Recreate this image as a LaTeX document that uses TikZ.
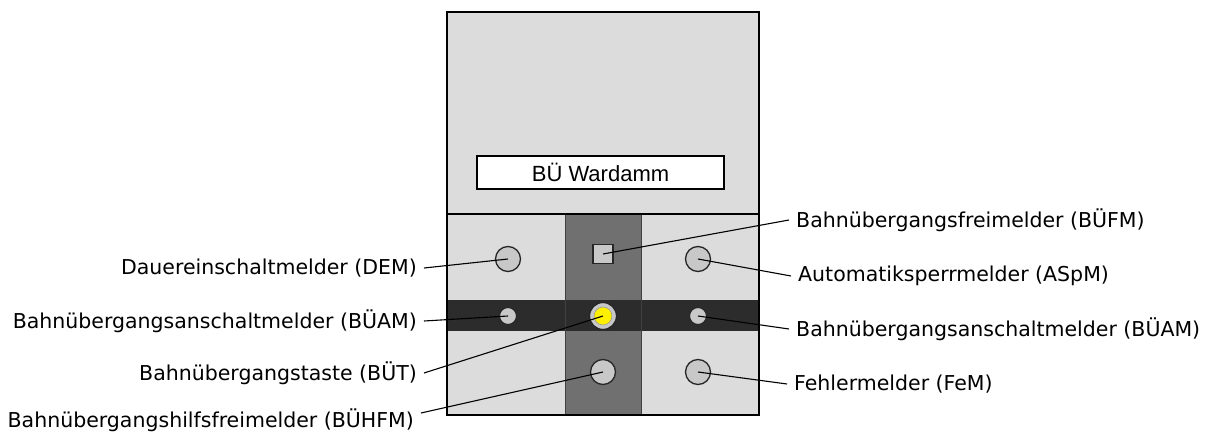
\documentclass[tikz,border=0pt]{standalone}
\usepackage{fontspec}
\setmainfont{DejaVu Sans}
\newfontfamily\namefont{Liberation Sans}
\usepackage{tikz}
\usetikzlibrary{positioning}
\definecolor{panel}{HTML}{DCDCDC}
\definecolor{lamp}{HTML}{C8C8C8}
\definecolor{track}{HTML}{707070}
\definecolor{road}{HTML}{2C2C2C}
\definecolor{bulb}{HTML}{FFF000}
\tikzset{
  frame/.style={draw=black, line width=2.6pt},
  divider/.style={draw=black, line width=2pt},
  edge/.style={draw=black!75, line width=0.8pt},
  lampbig/.style={circle, draw=black!85, line width=1.3pt, fill=lamp, minimum size=25pt, inner sep=0pt},
  lampsmall/.style={circle, draw=black!85, line width=1.1pt, fill=lamp, minimum size=17pt, inner sep=0pt},
  lampsq/.style={rectangle, draw=black!85, line width=1.3pt, fill=lamp, minimum width=20pt, minimum height=19pt, inner sep=0pt},
  button/.style={circle, draw=black!85, line width=1.3pt, fill=lamp, minimum size=27pt, inner sep=0pt},
  bulbin/.style={circle, draw=black!40, line width=0.6pt, fill=bulb, minimum size=18pt, inner sep=0pt},
  namebox/.style={draw=black, line width=1.3pt, fill=white, minimum width=247pt, minimum height=33pt, inner sep=0pt, font=\namefont\fontsize{22}{26}\selectfont},
  lbl/.style={font=\fontsize{20.5}{24}\selectfont, inner sep=0pt, inner xsep=7pt},
  lbll/.style={lbl, anchor=east},
  lblr/.style={lbl, anchor=west},
  lead/.style={draw=black, line width=1.1pt}
}

\begin{document}
\begin{tikzpicture}[x=1pt, y=-1pt]
  \useasboundingbox (0,0) rectangle (1205,433);

  % panel
  \fill[panel] (447,12) rectangle (759,415);
  \fill[track] (565,214) rectangle (641,415);
  \fill[road] (447,300) rectangle (759,331);
  \draw[edge] (565,214) -- (565,415);
  \draw[edge] (641,214) -- (641,415);
  \draw[frame] (447,12) rectangle (759,415);
  \draw[divider] (447,214) -- (759,214);
  \node[namebox] (name) at (600.5,172.5) {BÜ Wardamm};

  % indicators
  \node[lampbig] (dem) at (508,259) {};
  \node[lampsq] (bufm) at (603,254) {};
  \node[lampbig] (aspm) at (698,259) {};
  \node[lampsmall] (buaml) at (508,316) {};
  \node[button] (but) at (603,316) {};
  \node[bulbin] (butlamp) at (but.center) {};
  \node[lampsmall] (buamr) at (698,316) {};
  \node[lampbig] (buhfm) at (603,372) {};
  \node[lampbig] (fem) at (698,372) {};

  % labels left
  \node[lbll] (tdem) at (424,268) {Dauereinschaltmelder (DEM)};
  \node[lbll] (tbuaml) at (424,321) {Bahnübergangsanschaltmelder (BÜAM)};
  \node[lbll] (tbut) at (424,373) {Bahnübergangstaste (BÜT)};
  \node[lbll] (tbuhfm) at (421,420) {Bahnübergangshilfsfreimelder (BÜHFM)};

  % labels right
  \node[lblr] (tbufm) at (789,220) {Bahnübergangsfreimelder (BÜFM)};
  \node[lblr] (taspm) at (791,276) {Automatiksperrmelder (ASpM)};
  \node[lblr] (tbuamr) at (789,329) {Bahnübergangsanschaltmelder (BÜAM)};
  \node[lblr] (tfem) at (787,384) {Fehlermelder (FeM)};

  % leaders
  \draw[lead] (tdem.east) -- (dem.center);
  \draw[lead] (tbuaml.east) -- (buaml.center);
  \draw[lead] (tbut.east) -- (butlamp.center);
  \draw[lead] ([yshift=7pt]tbuhfm.east) -- (buhfm.center);
  \draw[lead] (tbufm.west) -- (bufm.center);
  \draw[lead] (taspm.west) -- (aspm.center);
  \draw[lead] (tbuamr.west) -- (buamr.center);
  \draw[lead] (tfem.west) -- (fem.center);
\end{tikzpicture}
\end{document}
